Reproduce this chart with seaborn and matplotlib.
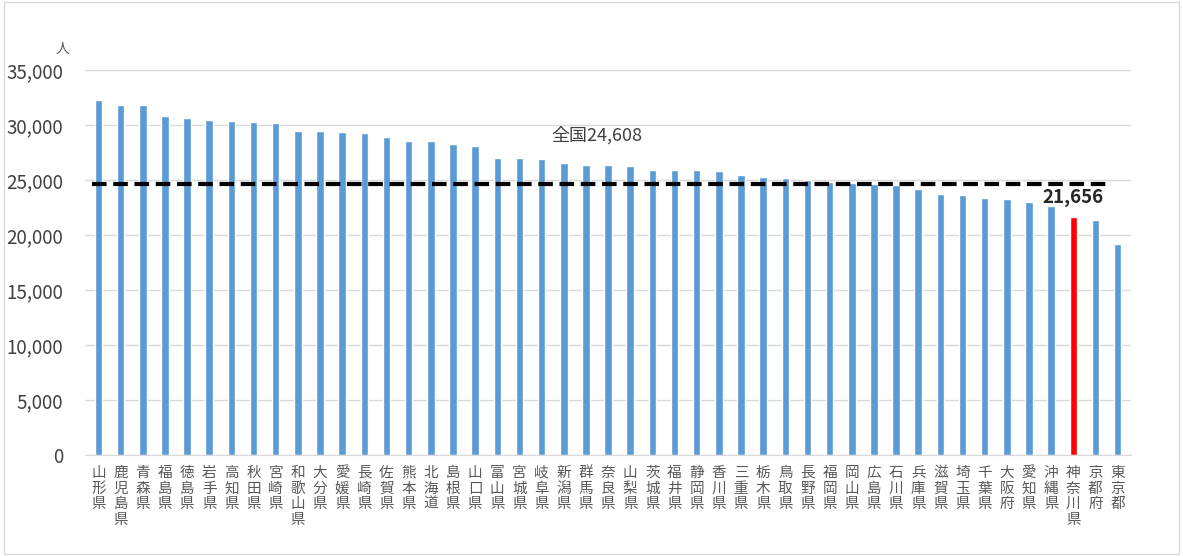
import matplotlib
matplotlib.use("Agg")
import matplotlib.pyplot as plt
import seaborn as sns
import pandas as pd

# 都道府県別の値（人）
prefectures = [
    "山形県", "鹿児島県", "青森県", "福島県", "徳島県", "岩手県", "高知県", "秋田県",
    "宮崎県", "和歌山県", "大分県", "愛媛県", "長崎県", "佐賀県", "熊本県", "北海道",
    "島根県", "山口県", "富山県", "宮城県", "岐阜県", "新潟県", "群馬県", "奈良県",
    "山梨県", "茨城県", "福井県", "静岡県", "香川県", "三重県", "栃木県", "鳥取県",
    "長野県", "福岡県", "岡山県", "広島県", "石川県", "兵庫県", "滋賀県", "埼玉県",
    "千葉県", "大阪府", "愛知県", "沖縄県", "神奈川県", "京都府", "東京都",
]
values = [
    32250, 31850, 31800, 30800, 30600, 30500, 30400, 30300,
    30150, 29450, 29450, 29350, 29300, 28900, 28550, 28550,
    28300, 28100, 27000, 27000, 26900, 26550, 26400, 26400,
    26300, 25900, 25900, 25900, 25800, 25450, 25300, 25200,
    25000, 24800, 24700, 24600, 24500, 24200, 23700, 23600,
    23350, 23300, 23000, 22600, 21656, 21400, 19200,
]
national = 24608
highlight = "神奈川県"

df = pd.DataFrame({"pref": prefectures, "value": values})
colors = ["#FF0000" if p == highlight else "#5B9BD5" for p in prefectures]

sns.set_style("white")
plt.rcParams["font.family"] = ["Noto Sans CJK JP", "DejaVu Sans"]

fig = plt.figure(figsize=(11.83, 5.56), dpi=100)
ax = fig.add_axes([0.072, 0.182, 0.884, 0.692])

sns.barplot(data=df, x="pref", y="value", hue="pref", palette=colors,
            legend=False, width=0.34, ax=ax, saturation=1)

ax.set_ylim(0, 35000)
ax.set_xlim(-0.6, len(prefectures) - 0.4)
ax.set_yticks(range(0, 35001, 5000))
ax.set_yticklabels([f"{v:,}" for v in range(0, 35001, 5000)], fontsize=13.5, color="#404040")
ax.yaxis.grid(True, color="#D9D9D9", linewidth=1)
ax.set_axisbelow(True)
ax.set_xticks(range(len(prefectures)))
ax.set_xticklabels(["\n".join(p) for p in prefectures], fontsize=10.5,
                   color="#595959", linespacing=1.15, va="top")
ax.tick_params(axis="y", length=0, pad=16)
ax.tick_params(axis="x", length=0, pad=8)
ax.set_xlabel("")
ax.set_ylabel("")
for s in ["top", "right", "left"]:
    ax.spines[s].set_visible(False)
ax.spines["bottom"].set_color("#D9D9D9")

# 全国平均線
ax.plot([-0.3, len(prefectures) - 1.35], [national, national], color="black",
        linewidth=3, linestyle=(0, (3.5, 1.6)))
ax.text(22.5, 28600, f"全国{national:,}", fontsize=13, color="#404040", ha="center")

hi = prefectures.index(highlight)
ax.text(hi, values[hi] + 900, f"{values[hi]:,}", fontsize=13.5, fontweight="bold",
        color="#262626", ha="center", va="bottom")

fig.text(0.047, 0.905, "人", fontsize=10, color="#595959")

fig.patches.append(plt.Rectangle((0.003, 0.003), 0.994, 0.994, transform=fig.transFigure,
                                 fill=False, edgecolor="#D9D9D9", linewidth=1))

fig.savefig("out.png", dpi=100)
